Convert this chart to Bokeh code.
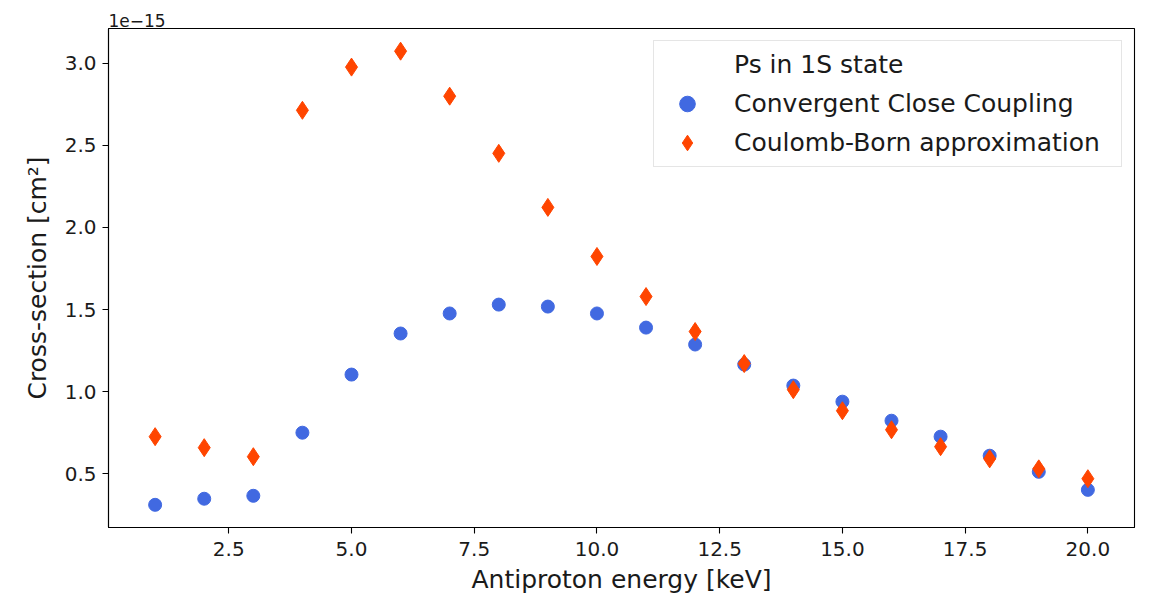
from bokeh.plotting import figure
from bokeh.models import Range1d, FixedTicker, NumeralTickFormatter, Legend, LegendItem
from bokeh.embed import file_html
from bokeh.resources import INLINE

# Data (cross-section values in units of 1e-15 cm^2)
energy = [1, 2, 3, 4, 5, 6, 7, 8, 9, 10, 11, 12, 13, 14, 15, 16, 17, 18, 19, 20]
ccc = [0.311, 0.348, 0.366, 0.750, 1.104, 1.354, 1.476, 1.530, 1.518, 1.476,
       1.390, 1.287, 1.165, 1.037, 0.939, 0.823, 0.726, 0.610, 0.512, 0.402]
cba = [0.726, 0.659, 0.604, 2.713, 2.976, 3.073, 2.799, 2.451, 2.122, 1.823,
       1.579, 1.366, 1.171, 1.012, 0.884, 0.768, 0.665, 0.591, 0.530, 0.470]
x_ticks = [2.5, 5.0, 7.5, 10.0, 12.5, 15.0, 17.5, 20.0]
y_ticks = [0.5, 1.0, 1.5, 2.0, 2.5, 3.0]

legend_title = "Ps in 1S state"
label_ccc = "Convergent Close Coupling"
label_cba = "Coulomb-Born approximation"

def padded(vals, frac=0.05):
    lo, hi = min(vals), max(vals)
    d = (hi - lo) * frac
    return lo - d, hi + d

xr = padded(energy)
yr = padded(ccc + cba)

FONT = "DejaVu Sans"
TXT = "#1a1a1a"

W, H = 1156, 600
BL, BR, BT, BB = 108, 22, 28, 73

p = figure(width=W, height=H, output_backend="svg", toolbar_location=None,
           x_range=Range1d(*xr), y_range=Range1d(*yr),
           min_border_left=BL, min_border_right=BR, min_border_top=BT, min_border_bottom=BB,
           title="1e\u221215")
p.title.text_font = FONT
p.title.text_font_size = "17px"
p.title.text_font_style = "normal"
p.title.text_color = TXT
p.title.align = "left"
p.title.offset = 0
p.title.standoff = 3

p.xgrid.visible = False
p.ygrid.visible = False
p.outline_line_color = "black"
p.outline_line_width = 1.1
p.background_fill_color = "white"
p.border_fill_color = "white"

for ax in (p.xaxis[0], p.yaxis[0]):
    ax.axis_line_color = "black"
    ax.axis_line_width = 1.1
    ax.major_tick_line_color = "black"
    ax.major_tick_line_width = 1.1
    ax.major_tick_out = 6
    ax.major_tick_in = 0
    ax.minor_tick_line_color = None
    ax.major_label_text_font = FONT
    ax.major_label_text_font_size = "20px"
    ax.major_label_text_color = TXT
    ax.axis_label_text_font = FONT
    ax.axis_label_text_font_size = "25px"
    ax.axis_label_text_font_style = "normal"
    ax.axis_label_text_color = TXT
    ax.formatter = NumeralTickFormatter(format="0.0")

p.xaxis[0].ticker = FixedTicker(ticks=x_ticks)
p.yaxis[0].ticker = FixedTicker(ticks=y_ticks)
p.xaxis[0].axis_label = "Antiproton energy [keV]"
p.yaxis[0].axis_label = "Cross-section [cm²]"
p.xaxis[0].major_label_standoff = 8
p.xaxis[0].axis_label_standoff = 6
p.yaxis[0].major_label_standoff = 6
p.yaxis[0].axis_label_standoff = 10

dummy = p.scatter([], [], size=1, fill_alpha=0, line_alpha=0)
r1 = p.scatter(energy, ccc, marker="circle", size=13,
               fill_color="royalblue", line_color="royalblue")
r2 = p.scatter(energy, cba, marker="diamond", size=18,
               fill_color="orangered", line_color="orangered")

legend = Legend(items=[
    LegendItem(label=legend_title, renderers=[dummy]),
    LegendItem(label=label_ccc, renderers=[r1]),
    LegendItem(label=label_cba, renderers=[r2]),
], location="top_right")
legend.margin = 12
legend.padding = 4
legend.spacing = 0
legend.glyph_width = 58
legend.glyph_height = 39
legend.label_height = 39
legend.label_width = 383
legend.label_standoff = 18
legend.label_text_font = FONT
legend.label_text_font_size = "25px"
legend.label_text_color = TXT
legend.border_line_color = "#cccccc"
legend.border_line_width = 1
legend.background_fill_alpha = 0.8
p.add_layout(legend)

open("out.html", "w").write(file_html(p, INLINE))
